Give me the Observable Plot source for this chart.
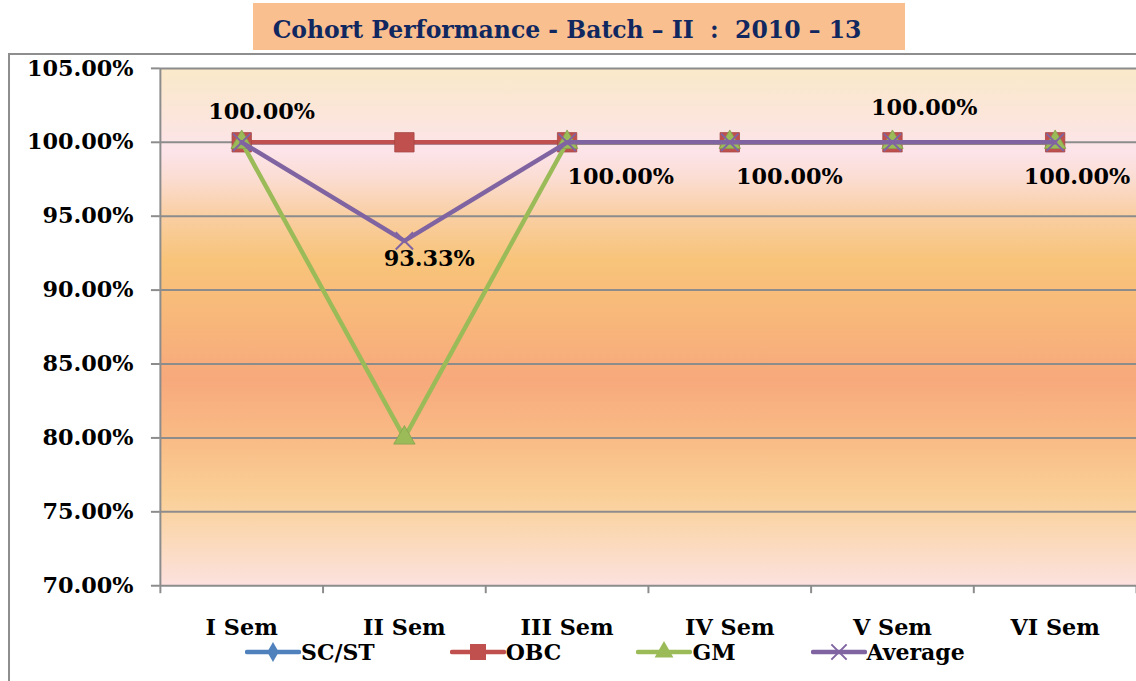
<!DOCTYPE html>
<html><head><meta charset="utf-8">
<script src="https://cdn.jsdelivr.net/npm/d3@7"></script>
<script src="https://cdn.jsdelivr.net/npm/@observablehq/plot@0.6"></script>
<style>
html,body{margin:0;padding:0;overflow:hidden;background:#fff;width:1136px;height:681px;}
body{position:relative;font-family:"DejaVu Serif",serif;}
#frame{position:absolute;left:8px;top:53px;width:1300px;height:700px;border-left:2px solid #8e8e8e;border-top:2px solid #8e8e8e;}
#title{position:absolute;left:253px;top:3px;width:652px;height:47px;box-sizing:border-box;padding:7px 24px 0 0;background:#F9BF8F;color:#10275F;font:bold 23.5px "DejaVu Serif",serif;display:flex;align-items:center;justify-content:center;white-space:pre;}
#chart{position:absolute;left:0;top:52px;line-height:0;}
#legend{position:absolute;left:245px;top:639px;display:flex;gap:75px;font:bold 22px "DejaVu Serif",serif;color:#000;}
#legend .item{display:flex;align-items:center;}
</style>
</head><body>
<div id="frame"></div>
<div id="title"></div>
<div id="chart"></div>
<div id="legend"></div>
<script>
// ---- data ----
const titleText = "Cohort Performance - Batch \u2013 II  :  2010 \u2013 13";
const semesters = ["I Sem", "II Sem", "III Sem", "IV Sem", "V Sem", "VI Sem"];
const seriesNames = ["SC/ST", "OBC", "GM", "Average"];
const scst = [1.00, 1.00, 1.00, 1.00, 1.00, 1.00];
const obc = [1.00, 1.00, 1.00, 1.00, 1.00, 1.00];
const gm = [1.00, 0.80, 1.00, 1.00, 1.00, 1.00];
const average = [1.00, 0.9333, 1.00, 1.00, 1.00, 1.00];
const yTicks = [0.70, 0.75, 0.80, 0.85, 0.90, 0.95, 1.00, 1.05];

// ---- styling ----
const seriesValues = [scst, obc, gm, average];
const colors = ["#4F81BD", "#C0504D", "#9BBB59", "#8064A2"];
const symbols = ["diamond", "square", "triangle", "times"];
const symbolR = [5.5, 11, 8, 8];
const legendR = [6, 9, 7, 7];
const d3Symbols = {diamond: d3.symbolDiamond, square: d3.symbolSquare, triangle: d3.symbolTriangle, times: d3.symbolTimes};
// per-label offsets (dx, dy) of the Average data labels
const labelOffsets = [[20, -31], [25, 18], [54, 35], [60, 35], [32, -35], [22, 35]];
const gridColor = "#8c8c8c";
const pct = d => (d * 100).toFixed(2) + "%";

document.getElementById("title").textContent = titleText;

const rows = seriesNames.flatMap((s, k) => seriesValues[k].map((v, i) => ({series: s, k, i, value: v})));

const seriesMarks = seriesNames.flatMap((s, k) => {
  const data = rows.filter(d => d.k === k);
  const isTimes = symbols[k] === "times";
  return [
    Plot.line(data, {x: "i", y: "value", stroke: colors[k], strokeWidth: 4.5, strokeLinejoin: "round"}),
    Plot.dot(data, isTimes
      ? {x: "i", y: "value", symbol: symbols[k], r: symbolR[k], stroke: colors[k], strokeWidth: 2, fill: "none"}
      : {x: "i", y: "value", symbol: symbols[k], r: symbolR[k], fill: colors[k], stroke: d3.color(colors[k]).darker(0.4).formatHex(), strokeWidth: 0.8})
  ];
});

const avgRows = rows.filter(d => d.series === "Average");
const labelMarks = avgRows.map((d, j) =>
  Plot.text([d], {x: "i", y: "value", text: d => pct(d.value), dx: labelOffsets[j][0], dy: labelOffsets[j][1], fill: "#000", fontSize: 22.5, fontWeight: "bold"})
);

const boundaries = d3.range(-0.5, semesters.length, 1);

const svg = Plot.plot({
  width: 1144,
  height: 629,
  marginLeft: 161,
  marginRight: 0,
  marginTop: 16,
  marginBottom: 92,
  x: {type: "linear", domain: [-0.5, semesters.length - 0.5], axis: null},
  y: {domain: [0.70, 1.05], axis: null},
  style: {background: "transparent", fontFamily: "'DejaVu Serif', serif", fontWeight: "bold", fontSize: "22.5px", color: "#000", overflow: "visible"},
  marks: [
    Plot.frame({fill: "url(#bg)", stroke: null}),
    Plot.ruleY(yTicks, {stroke: gridColor, strokeWidth: 2}),
    Plot.ruleX([-0.5], {stroke: gridColor, strokeWidth: 2}),
    Plot.axisY({ticks: yTicks, tickFormat: pct, tickSize: 9, tickPadding: 18, stroke: gridColor, strokeWidth: 2, strokeOpacity: 1, fill: "#000", label: null}),
    Plot.axisX({ticks: boundaries, tickFormat: () => "", tickSize: 8, stroke: gridColor, strokeWidth: 2, strokeOpacity: 1, label: null}),
    Plot.axisX({ticks: d3.range(semesters.length), tickFormat: i => semesters[i], tickSize: 0, tickPadding: 34, fill: "#000", label: null}),
    ...seriesMarks,
    ...labelMarks
  ]
});

// background gradient for the plot area
const stops = [
  [0.00, "#FAE9C9"], [0.08, "#FBE6D8"], [0.16, "#FCE4EA"], [0.21, "#FBDDD3"],
  [0.28, "#F9CFA5"], [0.37, "#F8C47A"], [0.46, "#F8BA7A"], [0.60, "#F7A97C"],
  [0.72, "#F9BC86"], [0.83, "#FAD098"], [0.91, "#FBD9B9"], [1.00, "#FCE2DF"]
];
const defs = d3.select(svg).insert("defs", ":first-child");
const grad = defs.append("linearGradient").attr("id", "bg").attr("x1", 0).attr("y1", 0).attr("x2", 0).attr("y2", 1);
stops.forEach(([o, c]) => grad.append("stop").attr("offset", o).attr("stop-color", c));
document.getElementById("chart").appendChild(svg);

// legend
const legend = d3.select("#legend");
seriesNames.forEach((s, k) => {
  const item = legend.append("div").attr("class", "item");
  const sw = item.append("svg").attr("width", 56).attr("height", 22);
  sw.append("line").attr("x1", 2).attr("x2", 54).attr("y1", 11).attr("y2", 11)
    .attr("stroke", colors[k]).attr("stroke-width", 4.5).attr("stroke-linecap", "round");
  const p = d3.symbol(d3Symbols[symbols[k]], Math.PI * legendR[k] * legendR[k])();
  const path = sw.append("path").attr("d", p).attr("transform", "translate(28,11)");
  if (symbols[k] === "times") path.attr("fill", "none").attr("stroke", colors[k]).attr("stroke-width", 2);
  else path.attr("fill", colors[k]);
  item.append("span").text(s);
});
</script>
</body></html>
